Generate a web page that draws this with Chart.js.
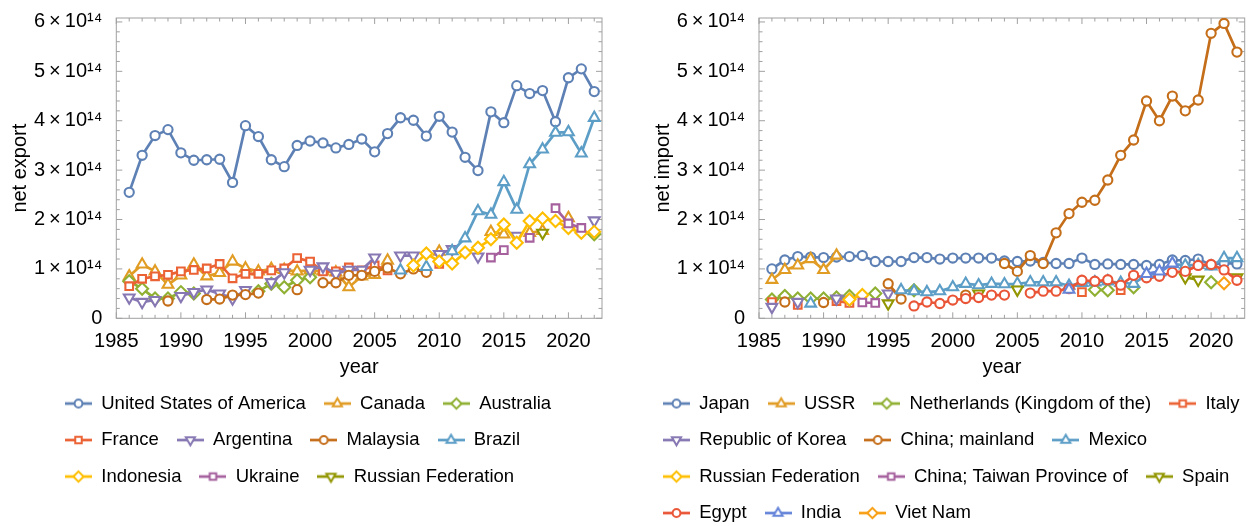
<!DOCTYPE html>
<html>
<head>
<meta charset="utf-8">
<script src="https://cdn.jsdelivr.net/npm/chart.js@4.4.1/dist/chart.umd.min.js"></script>
<style>
  html, body { margin: 0; padding: 0; background: #fff; overflow: hidden; }
  #wrap { position: relative; width: 1253px; height: 526px; overflow: hidden; }
  canvas { position: absolute; top: 0; }
  #exportChart { left: 0; }
  #importChart { left: 627px; }
</style>
</head>
<body>
<div id="wrap">
  <canvas id="exportChart" width="627" height="540"></canvas>
  <canvas id="importChart" width="626" height="540"></canvas>
</div>
<script>
// values in units of 10^14
const years = [1986, 1987, 1988, 1989, 1990, 1991, 1992, 1993, 1994, 1995,
               1996, 1997, 1998, 1999, 2000, 2001, 2002, 2003, 2004, 2005,
               2006, 2007, 2008, 2009, 2010, 2011, 2012, 2013, 2014, 2015,
               2016, 2017, 2018, 2019, 2020, 2021, 2022];

// ---- net export ----
const exUSA = [2.55, 3.30, 3.70, 3.82, 3.35, 3.20, 3.21, 3.22, 2.75, 3.90,
               3.68, 3.21, 3.07, 3.50, 3.59, 3.55, 3.45, 3.52, 3.63, 3.37,
               3.74, 4.06, 4.01, 3.69, 4.09, 3.77, 3.26, 2.99, 4.18, 3.96,
               4.71, 4.55, 4.61, 3.98, 4.87, 5.05, 4.59];
const exCanada = [0.85, 1.09, 0.95, 0.68, 0.87, 1.09, 0.85, 0.92, 1.15, 1.01,
                  0.95, 1.00, 0.98, 0.95, 0.97, 0.95, 0.93, 0.63, 0.85, 0.88,
                  1.17, null, null, null, 1.35, null, null, null, 1.75, 1.70,
                  null, 1.73, 1.77, null, 2.03, null, null];
const exAustralia = [0.75, 0.60, 0.40, 0.40, 0.53, 0.50, null, null, null, null,
                     0.55, 0.70, 0.63, 0.77, 0.83, null, null, null, null, null,
                     null, null, null, null, null, null, null, null, null, null,
                     null, null, null, null, null, null, 1.70];
const exFrance = [0.65, 0.80, 0.85, 0.88, 0.95, 0.98, 1.01, 1.10, 0.81, 0.90,
                  0.90, 0.97, 1.01, 1.22, 1.15, 0.95, 0.95, 1.03, 0.97, 1.07,
                  0.97, null, null, null, 1.10, null, null, null, null, null,
                  null, null, null, null, null, null, null];
const exArgentina = [0.42, 0.33, 0.37, null, 0.45, 0.53, 0.58, 0.50, 0.40, 0.57,
                     null, 0.73, 0.93, null, 0.98, 1.05, 0.90, 0.98, 0.98, 1.23,
                     null, 1.27, 1.27, null, 1.30, 1.40, null, 1.25, null, null,
                     1.67, null, null, null, null, null, 1.98];
const exMalaysia = [null, null, null, 0.35, null, null, 0.38, 0.39, 0.47, 0.48,
                    0.51, null, null, 0.58, null, 0.72, 0.72, 0.87, 0.87, 0.95,
                    1.02, 0.90, 1.00, 0.93, null, null, null, null, null, null,
                    null, null, null, null, null, null, null];
const exBrazil = [null, null, null, null, null, null, null, null, null, null,
                  null, null, null, null, null, null, null, null, null, null,
                  null, 0.97, null, 1.04, null, 1.36, 1.62, 2.17, 2.10, 2.76,
                  2.20, 3.12, 3.42, 3.76, 3.77, 3.34, 4.06];
const exIndonesia = [null, null, null, null, null, null, null, null, null, null,
                     null, null, null, null, null, null, null, null, null, null,
                     null, null, 1.07, 1.31, 1.15, 1.11, 1.33, 1.43, 1.60, 1.90,
                     1.53, 1.97, 2.02, 1.97, 1.83, 1.73, 1.75];
const exUkraine = [null, null, null, null, null, null, null, null, null, null,
                   null, null, null, null, null, null, null, null, null, null,
                   null, null, null, null, null, null, null, null, 1.23, 1.38,
                   null, 1.63, null, 2.23, 1.92, 1.83, null];
const exRussia = [null, null, null, null, null, null, null, null, null, null,
                  null, null, null, null, null, null, null, null, null, null,
                  null, null, null, null, null, null, null, null, null, null,
                  null, null, 1.73, null, null, null, null];

const exportNames = ['United States of America', 'Canada', 'Australia', 'France', 'Argentina',
                     'Malaysia', 'Brazil', 'Indonesia', 'Ukraine', 'Russian Federation'];
const exportValues = [exUSA, exCanada, exAustralia, exFrance, exArgentina,
                      exMalaysia, exBrazil, exIndonesia, exUkraine, exRussia];

// ---- net import ----
const imJapan = [1.00, 1.18, 1.25, 1.24, 1.23, 1.24, 1.25, 1.27, 1.15, 1.15,
                 1.15, 1.23, 1.23, 1.20, 1.22, 1.22, 1.22, 1.22, 1.16, 1.15,
                 1.16, 1.13, 1.11, 1.11, 1.22, 1.09, 1.10, 1.09, 1.09, 1.07,
                 1.09, 1.18, 1.17, 1.20, 1.08, 1.12, 1.10];
const imUSSR = [0.78, 0.98, 1.07, 1.20, 0.98, 1.27, null, null, null, null,
                null, null, null, null, null, null, null, null, null, null,
                null, null, null, null, null, null, null, null, null, null,
                null, null, null, null, null, null, null];
const imNetherlands = [0.38, 0.45, 0.40, 0.40, 0.40, 0.42, 0.45, null, 0.50, null,
                       null, 0.57, null, null, null, null, null, null, null, null,
                       null, null, null, null, null, 0.58, 0.57, null, 0.63, null,
                       null, null, null, null, 0.73, null, null];
const imItaly = [0.33, null, 0.27, null, null, 0.35, 0.31, null, null, null,
                 null, null, null, null, null, null, null, null, null, null,
                 null, null, null, null, 0.53, null, null, 0.57, null, null,
                 null, null, null, null, null, null, null];
const imKorea = [0.23, null, 0.33, null, null, 0.40, 0.38, null, null, 0.50,
                 null, null, null, null, null, null, null, null, null, null,
                 null, null, null, null, null, null, null, null, null, null,
                 null, null, null, null, null, null, null];
const imChina = [null, 0.33, null, null, 0.32, null, null, null, null, 0.70,
                 0.39, null, null, null, null, 0.47, null, null, 1.11, 0.95,
                 1.27, 1.11, 1.73, 2.12, 2.35, 2.39, 2.80, 3.30, 3.61, 4.40,
                 4.00, 4.50, 4.20, 4.42, 5.77, 5.97, 5.39];
const imMexico = [null, null, null, 0.30, null, null, null, null, null, null,
                  0.57, 0.55, 0.53, 0.55, 0.63, 0.70, 0.67, 0.70, 0.69, 0.70,
                  0.73, 0.73, 0.73, 0.66, 0.72, 0.73, 0.75, 0.72, 0.70, 0.88,
                  0.93, 1.10, 1.07, 1.08, 1.05, 1.22, 1.22];
const imRussia = [null, null, null, null, null, null, 0.38, 0.47, null, null,
                  null, null, null, null, null, null, null, null, null, null,
                  null, null, null, null, null, null, null, null, null, null,
                  null, null, null, null, null, null, null];
const imTaiwan = [null, null, null, null, null, null, null, 0.32, 0.31, null,
                  null, null, null, null, null, null, null, null, null, null,
                  null, null, null, null, null, null, null, null, null, null,
                  null, null, null, null, null, null, null];
const imSpain = [null, null, null, null, null, null, null, null, null, 0.30,
                 null, null, null, null, null, null, 0.50, null, null, 0.58,
                 null, null, null, null, null, null, null, null, null, null,
                 null, null, 0.83, 0.78, null, null, 0.83];
const imEgypt = [null, null, null, null, null, null, null, null, null, null,
                 null, 0.25, 0.33, 0.30, 0.37, 0.40, 0.42, 0.47, 0.47, null,
                 0.51, 0.55, 0.55, 0.60, 0.77, 0.75, 0.78, 0.67, 0.87, 0.82,
                 0.85, 0.93, 0.95, 1.07, 1.09, 0.98, 0.77];
const imIndia = [null, null, null, null, null, null, null, null, null, null,
                 null, null, null, null, null, null, null, null, null, null,
                 null, null, null, 0.58, null, null, null, null, null, 0.90,
                 0.95, 1.11, null, null, null, null, null];
const imVietNam = [null, null, null, null, null, null, null, null, null, null,
                   null, null, null, null, null, null, null, null, null, null,
                   null, null, null, null, null, null, null, null, null, null,
                   null, null, null, null, null, 0.71, null];

const importNames = ['Japan', 'USSR', 'Netherlands (Kingdom of the)', 'Italy', 'Republic of Korea',
                     'China; mainland', 'Mexico', 'Russian Federation', 'China; Taiwan Province of', 'Spain',
                     'Egypt', 'India', 'Viet Nam'];
const importValues = [imJapan, imUSSR, imNetherlands, imItaly, imKorea,
                      imChina, imMexico, imRussia, imTaiwan, imSpain,
                      imEgypt, imIndia, imVietNam];

const yTickValues = [0, 1, 2, 3, 4, 5, 6];

// Mathematica-like default palette and marker cycle
const palette = ['#5E81B5', '#E19C24', '#8FB032', '#EB6235', '#8778B3', '#C56E1A', '#5D9EC7',
                 '#FFBF00', '#A5609D', '#929600', '#E95536', '#6685D9', '#F89F13'];
const markers = [
  {style: 'circle', rotation: 0, radius: 4.6},
  {style: 'triangle', rotation: 0, radius: 6.2},
  {style: 'rectRot', rotation: 0, radius: 6},
  {style: 'rect', rotation: 0, radius: 5.4},
  {style: 'triangle', rotation: 180, radius: 6.2}
];

const FONT = 'Liberation Sans';
const FRAME = '#a0a0a0';
Chart.defaults.font.family = FONT;
Chart.defaults.color = '#000';

function makeSwatch(color, m) {
  const c = document.createElement('canvas');
  c.width = 27; c.height = 16;
  const g = c.getContext('2d');
  g.strokeStyle = color;
  g.lineWidth = 2.7;
  g.beginPath(); g.moveTo(0, 8); g.lineTo(27, 8); g.stroke();
  g.fillStyle = '#fff';
  g.lineWidth = 2;
  Chart.helpers.drawPoint(g, {pointStyle: m.style, rotation: m.rotation, radius: m.radius * 0.85, borderWidth: 2}, 13.5, 8);
  return c;
}

// frame with inward ticks on all four sides
const frameTicks = {
  id: 'frameTicks',
  beforeDatasetsDraw(chart) {
    const {ctx, chartArea: a, scales: {x, y}} = chart;
    ctx.save();
    ctx.strokeStyle = FRAME;
    ctx.lineWidth = 1;
    ctx.strokeRect(a.left, a.top, a.right - a.left, a.bottom - a.top);
    ctx.beginPath();
    for (let yr = Math.ceil(x.min); yr <= x.max; yr++) {
      const px = x.getPixelForValue(yr);
      const len = yr % 5 === 0 ? 6 : 3.5;
      ctx.moveTo(px, a.bottom); ctx.lineTo(px, a.bottom - len);
      ctx.moveTo(px, a.top); ctx.lineTo(px, a.top + len);
    }
    for (let k = 0; k * 0.2e14 <= y.max; k++) {
      const py = y.getPixelForValue(k * 0.2e14);
      const len = k % 5 === 0 ? 6 : 3.5;
      ctx.moveTo(a.left, py); ctx.lineTo(a.left + len, py);
      ctx.moveTo(a.right, py); ctx.lineTo(a.right - len, py);
    }
    ctx.stroke();
    ctx.restore();
  }
};

// move the legend rows sideways (rows start left of the plot frame)
const legendShift = {
  id: 'legendShift',
  afterLayout(chart, args, opts) {
    chart.legend.left += opts.dx;
    chart.legend.right += opts.dx;
  }
};

const sup = {'1': '¹', '4': '⁴'};
function yLabel(v) {
  const n = Math.round(v / 1e14);
  return n === 0 ? '0' : n + '\u2009×\u200910' + '14'.split('').map(c => sup[c]).join('');
}

function makeChart(id, names, values, yTitle, pad, yWidth, yTitlePad, dx) {
  const swatches = names.map((n, i) => makeSwatch(palette[i], markers[i % markers.length]));
  const datasets = names.map((name, i) => {
    const m = markers[i % markers.length];
    return {
      label: name,
      data: years.map((yr, j) => ({x: yr, y: values[i][j] === null ? null : values[i][j] * 1e14})),
      borderColor: palette[i],
      backgroundColor: palette[i],
      borderWidth: 2.7,
      pointStyle: m.style,
      pointRotation: m.rotation,
      pointRadius: m.radius,
      pointBackgroundColor: '#fff',
      pointBorderColor: palette[i],
      pointBorderWidth: 2.1,
      spanGaps: false,
      tension: 0,
      order: -i
    };
  });

  return new Chart(document.getElementById(id), {
    type: 'line',
    data: {datasets},
    plugins: [frameTicks, legendShift],
    options: {
      responsive: false,
      animation: false,
      devicePixelRatio: 1,
      events: [],
      layout: {padding: pad},
      scales: {
        x: {
          type: 'linear',
          min: 1985,
          max: 2022.6,
          grid: {display: false},
          border: {display: false},
          ticks: {
            stepSize: 5,
            includeBounds: false,
            autoSkip: false,
            maxRotation: 0,
            padding: 3,
            font: {size: 20},
            color: '#000',
            callback: v => String(v)
          },
          title: {display: true, text: 'year', font: {size: 20}, color: '#000', padding: {top: 0, bottom: -3}},
          afterFit: s => { s.height = 58; }
        },
        y: {
          min: 0,
          max: 6.08e14,
          grid: {display: false},
          border: {display: false},
          afterBuildTicks: s => { s.ticks = yTickValues.map(v => ({value: v * 1e14})); },
          ticks: {
            padding: 6,
            font: {size: 20},
            color: '#000',
            callback: v => yLabel(v)
          },
          title: {display: true, text: yTitle, font: {size: 20}, color: '#000', padding: {top: yTitlePad, bottom: 0}},
          afterFit: s => { s.width = yWidth; }
        }
      },
      plugins: {
        tooltip: {enabled: false},
        legendShift: {dx},
        legend: {
          position: 'bottom',
          align: 'start',
          labels: {
            usePointStyle: true,
            pointStyleWidth: 27,
            padding: 18,
            color: '#000',
            font: {size: 18.5},
            sort: (a, b) => a.datasetIndex - b.datasetIndex,
            generateLabels: chart => {
              const items = Chart.defaults.plugins.legend.labels.generateLabels(chart);
              items.forEach(it => {
                it.pointStyle = swatches[it.datasetIndex];
                it.rotation = 0;
                it.fontColor = '#000';
              });
              return items;
            }
          }
        }
      }
    }
  });
}

makeChart('exportChart', exportNames, exportValues, 'net export',
          {top: 14.3, right: 25, bottom: 44.2, left: 0}, 116.3, 8, 47);
makeChart('importChart', importNames, importValues, 'net import',
          {top: 14.3, right: 5, bottom: 7.7, left: 0}, 132, 24, 18);
</script>
</body>
</html>
